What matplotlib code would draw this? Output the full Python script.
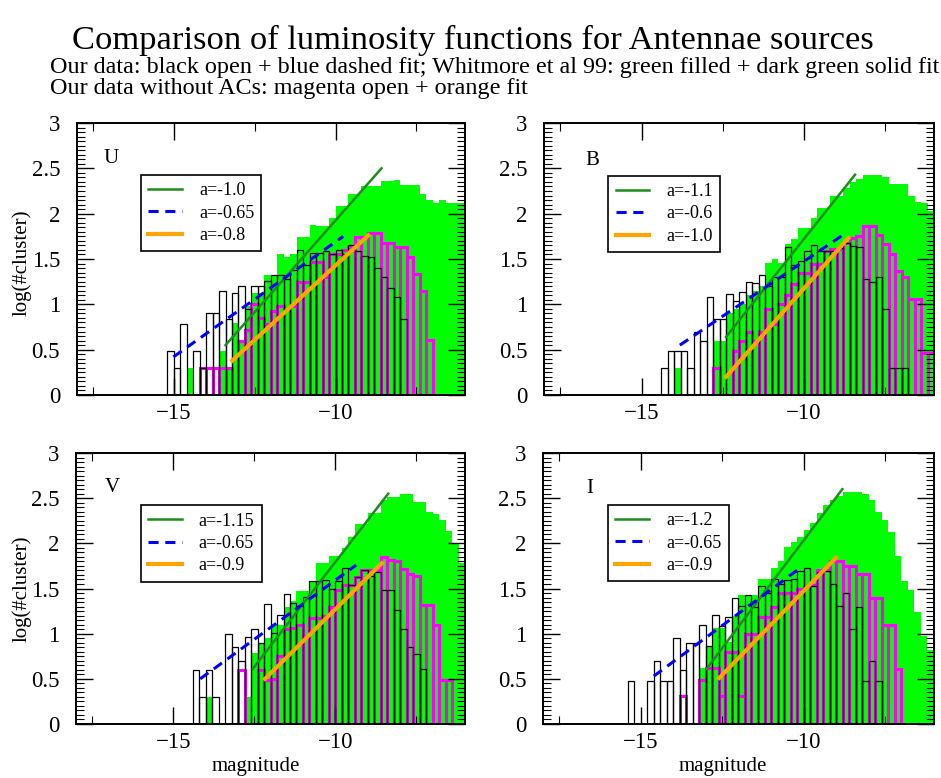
import numpy as np
import matplotlib
matplotlib.use('Agg')
import matplotlib.pyplot as plt
import matplotlib.ticker as ticker

plt.rcParams['font.family'] = ['Liberation Serif', 'DejaVu Serif']

nan = np.nan
BW = 0.2  # bin width (mag)

# ---- U band: log(#cluster) per 0.2 mag bin, first bin left edge given by *_start
u_green_start = -14.6
u_green = [0.30, nan, nan, nan, nan, 0.48, 0.30, 0.79, 0.60, 0.98, 1.12, 1.12, 1.32, 1.32, 1.55,
           1.52, 1.56, 1.74, 1.74, 1.88, 1.86, 1.86, 1.95, 2.09, 2.09, 2.22, 2.22, 2.31, 2.31, 2.31,
           2.36, 2.36, 2.37, 2.32, 2.32, 2.32, 2.22, 2.15, 2.12, 2.15, 2.12, 2.12, 2.12]
u_mag_start = -15.0
u_mag = [0, nan, nan, 0, 0.30, 0.30, 0.30, 0.30, 0.30, 0, 0.60, 0.72, 1.00, 0.85, 0.78, 0.93,
         0.98, 0.95, 0.98, 1.25, 1.25, 1.47, 1.47, 1.30, 1.55, 1.55, 1.60, 1.63, 1.74, 1.74,
         1.79, 1.79, 1.68, 1.68, 1.63, 1.63, 1.52, 1.34, 1.15, 0.61]
u_blk_start = -15.2
u_blk = [0.48, 0.30, 0.78, 0, 0.48, 0.30, 0.90, 0.90, 1.15, 0.84, 1.12, 1.20, 0.95, 1.20, 1.20,
         1.26, 1.32, 1.32, 1.28, 1.38, 1.60, 1.43, 1.57, 1.57, 1.59, 1.55, 1.60, 1.55, 1.65, 1.59,
         1.53, 1.52, 1.40, 1.30, 1.18, 1.08, 0.84]
u_fit_green = ([-13.40, -8.58], [0.55, 2.50])
u_fit_blue = ([-15.01, -9.76], [0.42, 1.75])
u_fit_orange = ([-13.19, -8.99], [0.38, 1.76])
u_labels = ['a=-1.0', 'a=-0.65', 'a=-0.8']

# ---- B band
b_green_start = -14.0
b_green = [0.30, nan, nan, nan, nan, nan, 0.60, 0.60, 0.90, 0.95, 1.00, 1.10, 1.15, 1.20, 1.46,
           1.50, 1.46, 1.66, 1.72, 1.84, 1.84, 1.95, 2.06, 2.06, 2.19, 2.19, 2.28, 2.35, 2.38, 2.43,
           2.43, 2.43, 2.40, 2.33, 2.33, 2.33, 2.19, 2.13, 2.12, 2.03]
b_mag_start = -13.8
b_mag = [0, nan, nan, 0, nan, 0.30, 0, 0, 0.48, 0.60, 0.70, 0.60, 0.70, 0.95, 0.78, 1.00, 1.10,
         1.22, 1.35, 1.35, 1.44, 1.44, 1.59, 1.61, 1.61, 1.68, 1.73, 1.75, 1.86, 1.86, 1.77, 1.66,
         1.55, 1.37, 1.30, 1.06, 1.06, 0.46, 0.46]
b_blk_start = -14.4
b_blk = [0.30, 0.48, 0.48, 0.48, 0.30, 0.70, 0.60, 1.08, 0.84, 0.84, 1.11, 1.04, 1.14, 1.25, 1.23,
         1.32, 1.20, 1.30, 1.30, 1.63, 1.43, 1.48, 1.59, 1.65, 1.59, 1.59, 1.59, 1.62, 1.68, 1.64,
         1.63, 1.28, 1.25, 1.30, 0.95, 0.30, 0.30, 0.30]
b_fit_green = ([-12.40, -8.43], [0.64, 2.43])
b_fit_blue = ([-13.82, -8.74], [0.55, 1.78])
b_fit_orange = ([-12.40, -8.64], [0.20, 1.73])
b_labels = ['a=-1.1', 'a=-0.6', 'a=-1.0']

# ---- V band
v_green_start = -14.0
v_green = [0.30, nan, nan, nan, nan, nan, 0.30, 0.79, 0.90, 0.95, 1.10, 1.10, 1.30, 1.36, 1.47,
           1.47, 1.58, 1.78, 1.78, 1.86, 1.86, 1.95, 2.07, 2.21, 2.21, 2.34, 2.34, 2.48, 2.51, 2.51,
           2.55, 2.55, 2.46, 2.46, 2.35, 2.33, 2.26, 2.14, 1.99, 1.78]
v_mag_start = -13.0
v_mag = [0.60, 0, nan, 0.60, 0.49, 0.50, 0.75, 1.05, 1.06, 1.10, 0.97, 1.17, 1.17, 1.20, 1.30,
         1.48, 1.54, 1.54, 1.63, 1.70, 1.70, 1.70, 1.85, 1.82, 1.80, 1.72, 1.66, 1.64, 1.32, 1.32,
         1.10, 0.49, 0.49, 0]
v_blk_start = -14.4
v_blk = [0.60, 0.30, 0.60, 0.30, nan, 1.00, 0.85, 0.70, 0.96, 1.05, 0.90, 1.33, 1.01, 1.21, 1.44,
         1.34, 1.31, 1.41, 1.58, 1.58, 1.59, 1.50, 1.58, 1.73, 1.54, 1.63, 1.70, 1.64, 1.68, 1.48,
         1.48, 1.26, 1.05, 0.85, 0.78, 0.61]
v_fit_green = ([-12.55, -8.37], [0.61, 2.55])
v_fit_blue = ([-14.17, -9.36], [0.50, 1.76])
v_fit_orange = ([-12.17, -8.57], [0.50, 1.78])
v_labels = ['a=-1.15', 'a=-0.65', 'a=-0.9']

# ---- I band
i_green_start = -13.2
i_green = [0.62, 0.86, 1.06, 1.06, 0.91, 1.20, 1.43, 1.43, 1.43, 1.61, 1.61, 1.73, 1.80, 1.96,
           2.02, 2.07, 2.15, 2.22, 2.34, 2.42, 2.48, 2.52, 2.57, 2.57, 2.57, 2.55, 2.48, 2.35, 2.26,
           2.13, 1.86, 1.58, 1.48, 1.24, 0.97, 0.82]
i_mag_start = -13.8
i_mag = [0.31, nan, 0, 0.49, 0.62, 0.62, 0.31, 0.80, 0.80, 0.31, 1.00, 1.00, 1.18, 1.18, 1.30,
         1.45, 1.45, 1.45, 1.49, 1.52, 1.54, 1.70, 1.70, 1.80, 1.81, 1.75, 1.75, 1.66, 1.66, 1.40,
         1.40, 1.10, 1.10, 0.61]
i_blk_start = -15.4
i_blk = [0.48, nan, nan, 0.48, 0.70, 0.48, 0.48, 0.95, 0.60, 0.90, 0.90, 1.10, 0.86, 1.21, 1.08,
         1.19, 1.39, 1.31, 1.43, 1.30, 1.53, 1.45, 1.60, 1.55, 1.59, 1.60, 1.69, 1.73, 1.53, 1.68,
         1.69, 1.55, 1.31, 1.45, 1.05, 1.29, 0.48, 0.70, 0.48]
i_fit_green = ([-12.98, -8.81], [0.61, 2.60])
i_fit_blue = ([-14.60, -10.17], [0.53, 1.71])
i_fit_orange = ([-12.59, -9.01], [0.51, 1.84])
i_labels = ['a=-1.2', 'a=-0.65', 'a=-0.9']

panels = [
    dict(name='U', rect=[0.0815, 0.4923, 0.4126, 0.3496],
         green=(u_green_start, u_green), mag=(u_mag_start, u_mag), blk=(u_blk_start, u_blk),
         fits=(u_fit_green, u_fit_blue, u_fit_orange), labels=u_labels,
         leg=(0.166, 0.809), letter=(0.068, 0.853)),
    dict(name='B', rect=[0.5781, 0.4923, 0.4145, 0.3496],
         green=(b_green_start, b_green), mag=(b_mag_start, b_mag), blk=(b_blk_start, b_blk),
         fits=(b_fit_green, b_fit_blue, b_fit_orange), labels=b_labels,
         leg=(0.165, 0.806), letter=(0.105, 0.846)),
    dict(name='V', rect=[0.0808, 0.0694, 0.4134, 0.3483],
         green=(v_green_start, v_green), mag=(v_mag_start, v_mag), blk=(v_blk_start, v_blk),
         fits=(v_fit_green, v_fit_blue, v_fit_orange), labels=v_labels,
         leg=(0.167, 0.807), letter=(0.075, 0.857)),
    dict(name='I', rect=[0.5770, 0.0694, 0.4155, 0.3483],
         green=(i_green_start, i_green), mag=(i_mag_start, i_mag), blk=(i_blk_start, i_blk),
         fits=(i_fit_green, i_fit_blue, i_fit_orange), labels=i_labels,
         leg=(0.167, 0.808), letter=(0.112, 0.853)),
]


def edges_of(start, vals):
    return start + BW * np.arange(len(vals))


def open_bars(ax, start, vals, color, lw):
    vals = np.asarray(vals, dtype=float)
    left = edges_of(start, vals)
    ok = ~np.isnan(vals)
    ax.bar(left[ok], vals[ok], width=BW, align='edge', fill=False,
           edgecolor=color, linewidth=lw)


fig = plt.figure(figsize=(9.41, 7.78), dpi=100)

for p in panels:
    ax = fig.add_axes(p['rect'])

    # Whitmore et al: filled lime histogram
    start, vals = p['green']
    vals = np.nan_to_num(np.asarray(vals, dtype=float))
    edges = np.append(edges_of(start, vals), start + BW * len(vals))
    ax.stairs(vals, edges, fill=True, color='#00ff00', linewidth=0)

    # our data without ACs (magenta) and our data (black), open bars
    open_bars(ax, *p['mag'], color='#ff00ff', lw=2.2)
    open_bars(ax, *p['blk'], color='black', lw=0.9)

    fg, fb, fo = p['fits']
    ax.plot(*fg, color='#1e8c1e', lw=1.8, label=p['labels'][0])
    ax.plot(*fb, color='#0000ff', lw=2.2, ls=(0, (3.3, 2.2)), label=p['labels'][1])
    ax.plot(*fo, color='#ffa500', lw=3.0, label=p['labels'][2])

    leg = ax.legend(loc='upper left', bbox_to_anchor=p['leg'], borderaxespad=0,
                    fancybox=False, edgecolor='black', framealpha=1, fontsize=13,
                    handlelength=1.85, handletextpad=0.95, labelspacing=0.3, borderpad=0.4)
    leg.get_frame().set_linewidth(1.2)

    ax.text(p['letter'][0], p['letter'][1], p['name'], transform=ax.transAxes,
            fontsize=15, va='baseline', ha='left')

    ax.set_xlim(-18, -6)
    ax.set_ylim(0, 3)
    ax.xaxis.set_major_locator(ticker.FixedLocator([-15, -10]))
    ax.xaxis.set_minor_locator(ticker.FixedLocator([-17.5, -12.5, -7.5]))
    ax.yaxis.set_major_locator(ticker.MultipleLocator(0.5))
    ax.yaxis.set_minor_locator(ticker.MultipleLocator(0.05))
    ax.xaxis.set_major_formatter(ticker.FuncFormatter(lambda v, pos: ('%g' % v).replace('-', '\u2212')))
    ax.yaxis.set_major_formatter(ticker.FuncFormatter(lambda v, pos: '%g' % v))
    ax.tick_params(which='both', direction='in', top=True, right=True, labelsize=16.5)
    ax.tick_params(which='major', length=12, width=1.0)
    ax.tick_params(which='minor', length=6, width=0.8)
    ax.tick_params(axis='y', pad=12)
    ax.tick_params(axis='x', pad=6)
    for s in ax.spines.values():
        s.set_linewidth(1.4)

fig.text(0.502, 0.9365, 'Comparison of luminosity functions for Antennae sources',
         fontsize=24.8, ha='center', va='baseline')
fig.text(0.053, 0.9065,
         'Our data: black open + blue dashed fit; Whitmore et al 99: green filled + dark green solid fit',
         fontsize=17.4, ha='left', va='baseline')
fig.text(0.053, 0.8795, 'Our data without ACs: magenta open + orange fit',
         fontsize=17.4, ha='left', va='baseline')

for yc in (0.662, 0.2436):
    fig.text(0.0234, yc, 'log(#cluster)', rotation=90, fontsize=15, ha='center', va='center')
for xc in (0.272, 0.768):
    fig.text(xc, 1 - 767 / 778, 'magnitude', fontsize=15, ha='center', va='center')

fig.savefig('out.png', dpi=100)
